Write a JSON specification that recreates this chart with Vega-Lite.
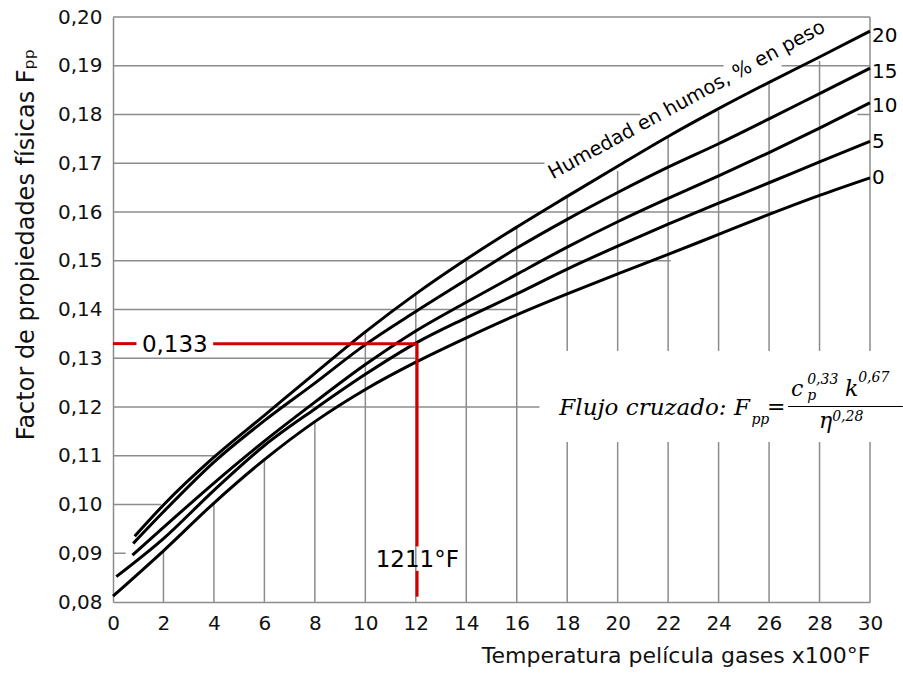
{
  "$schema": "https://vega.github.io/schema/vega-lite/v6.json",
  "width": 757,
  "height": 585,
  "autosize": {"type": "none"},
  "padding": {"left": 113, "top": 17, "right": 33, "bottom": 73},
  "background": "white",
  "config": {"view": {"stroke": null}, "font": "DejaVu Sans"},
  "datasets": {
    "hgrid": [
      {"y": 0.09, "x": 0, "x2": 0.5},
      {"y": 0.10, "x": 0, "x2": 1.9},
      {"y": 0.11, "x": 0, "x2": 4.0},
      {"y": 0.12, "x": 0, "x2": 16.9},
      {"y": 0.13, "x": 0, "x2": 12.0},
      {"y": 0.14, "x": 0, "x2": 16.0},
      {"y": 0.15, "x": 0, "x2": 22.1},
      {"y": 0.16, "x": 0, "x2": 26.2},
      {"y": 0.17, "x": 0, "x2": 17.1},
      {"y": 0.18, "x": 0, "x2": 20.9},
      {"y": 0.18, "x": 29.5, "x2": 30},
      {"y": 0.19, "x": 0, "x2": 24.2},
      {"y": 0.19, "x": 26.5, "x2": 30},
      {"y": 0.20, "x": 0, "x2": 30}
    ],
    "vgrid": [
      {"x": 2, "y": 0.08, "y2": 0.0905},
      {"x": 4, "y": 0.08, "y2": 0.1003},
      {"x": 6, "y": 0.08, "y2": 0.1092},
      {"x": 8, "y": 0.08, "y2": 0.1170},
      {"x": 10, "y": 0.08, "y2": 0.1354},
      {"x": 12, "y": 0.08, "y2": 0.1432},
      {"x": 14, "y": 0.08, "y2": 0.1503},
      {"x": 16, "y": 0.08, "y2": 0.1569},
      {"x": 18, "y": 0.08, "y2": 0.1128},
      {"x": 18, "y": 0.1315, "y2": 0.1632},
      {"x": 20, "y": 0.08, "y2": 0.1128},
      {"x": 20, "y": 0.1315, "y2": 0.1684},
      {"x": 22, "y": 0.08, "y2": 0.1128},
      {"x": 22, "y": 0.1315, "y2": 0.1752},
      {"x": 24, "y": 0.08, "y2": 0.1128},
      {"x": 24, "y": 0.1315, "y2": 0.1807},
      {"x": 26, "y": 0.08, "y2": 0.1128},
      {"x": 26, "y": 0.1315, "y2": 0.1862},
      {"x": 28, "y": 0.08, "y2": 0.1128},
      {"x": 28, "y": 0.1315, "y2": 0.1910},
      {"x": 30, "y": 0.08, "y2": 0.1128},
      {"x": 30, "y": 0.1315, "y2": 0.20}
    ],
    "curves": [
      {"h": 0, "x": 0, "y": 0.0812}, {"h": 0, "x": 2, "y": 0.0905}, {"h": 0, "x": 4, "y": 0.1003}, {"h": 0, "x": 6, "y": 0.1092},
      {"h": 0, "x": 8, "y": 0.1170}, {"h": 0, "x": 10, "y": 0.1236}, {"h": 0, "x": 12, "y": 0.1292}, {"h": 0, "x": 14, "y": 0.1342},
      {"h": 0, "x": 16, "y": 0.1389}, {"h": 0, "x": 18, "y": 0.1432}, {"h": 0, "x": 20, "y": 0.1473}, {"h": 0, "x": 22, "y": 0.1513},
      {"h": 0, "x": 24, "y": 0.1554}, {"h": 0, "x": 26, "y": 0.1595}, {"h": 0, "x": 28, "y": 0.1634}, {"h": 0, "x": 30, "y": 0.1670},
      {"h": 5, "x": 0.13, "y": 0.0852}, {"h": 5, "x": 2, "y": 0.0930}, {"h": 5, "x": 4, "y": 0.1029}, {"h": 5, "x": 6, "y": 0.1121},
      {"h": 5, "x": 8, "y": 0.1196}, {"h": 5, "x": 10, "y": 0.1267}, {"h": 5, "x": 12, "y": 0.1331}, {"h": 5, "x": 14, "y": 0.1383},
      {"h": 5, "x": 16, "y": 0.1432}, {"h": 5, "x": 18, "y": 0.1483}, {"h": 5, "x": 20, "y": 0.1530}, {"h": 5, "x": 22, "y": 0.1575},
      {"h": 5, "x": 24, "y": 0.1618}, {"h": 5, "x": 26, "y": 0.1660}, {"h": 5, "x": 28, "y": 0.1703}, {"h": 5, "x": 30, "y": 0.1745},
      {"h": 10, "x": 0.77, "y": 0.0896}, {"h": 10, "x": 2, "y": 0.0953}, {"h": 10, "x": 4, "y": 0.1044}, {"h": 10, "x": 6, "y": 0.1130},
      {"h": 10, "x": 8, "y": 0.1210}, {"h": 10, "x": 10, "y": 0.1287}, {"h": 10, "x": 12, "y": 0.1356}, {"h": 10, "x": 14, "y": 0.1415},
      {"h": 10, "x": 16, "y": 0.1472}, {"h": 10, "x": 18, "y": 0.1528}, {"h": 10, "x": 20, "y": 0.1580}, {"h": 10, "x": 22, "y": 0.1628},
      {"h": 10, "x": 24, "y": 0.1674}, {"h": 10, "x": 26, "y": 0.1722}, {"h": 10, "x": 28, "y": 0.1772}, {"h": 10, "x": 30, "y": 0.1824},
      {"h": 15, "x": 0.8, "y": 0.0920}, {"h": 15, "x": 2, "y": 0.0985}, {"h": 15, "x": 4, "y": 0.1087}, {"h": 15, "x": 6, "y": 0.1172},
      {"h": 15, "x": 8, "y": 0.1249}, {"h": 15, "x": 10, "y": 0.1328}, {"h": 15, "x": 12, "y": 0.1396}, {"h": 15, "x": 14, "y": 0.1461},
      {"h": 15, "x": 16, "y": 0.1526}, {"h": 15, "x": 18, "y": 0.1585}, {"h": 15, "x": 20, "y": 0.1640}, {"h": 15, "x": 22, "y": 0.1692},
      {"h": 15, "x": 24, "y": 0.1740}, {"h": 15, "x": 26, "y": 0.1791}, {"h": 15, "x": 28, "y": 0.1843}, {"h": 15, "x": 30, "y": 0.1895},
      {"h": 20, "x": 0.86, "y": 0.0935}, {"h": 20, "x": 2, "y": 0.0999}, {"h": 20, "x": 4, "y": 0.1097}, {"h": 20, "x": 6, "y": 0.1183},
      {"h": 20, "x": 8, "y": 0.1269}, {"h": 20, "x": 10, "y": 0.1354}, {"h": 20, "x": 12, "y": 0.1432}, {"h": 20, "x": 14, "y": 0.1503},
      {"h": 20, "x": 16, "y": 0.1569}, {"h": 20, "x": 18, "y": 0.1632}, {"h": 20, "x": 20, "y": 0.1694}, {"h": 20, "x": 22, "y": 0.1755},
      {"h": 20, "x": 24, "y": 0.1812}, {"h": 20, "x": 26, "y": 0.1866}, {"h": 20, "x": 28, "y": 0.1918}, {"h": 20, "x": 30, "y": 0.1971}
    ],
    "red": [
      {"x": 0, "y": 0.133, "x2": 0.93, "y2": 0.133},
      {"x": 3.97, "y": 0.133, "x2": 12.05, "y2": 0.133},
      {"x": 12.05, "y": 0.133, "x2": 12.05, "y2": 0.0914},
      {"x": 12.05, "y": 0.0864, "x2": 12.05, "y2": 0.0811}
    ],
    "curvelab": [
      {"x": 30, "y": 0.1961, "t": "20"},
      {"x": 30, "y": 0.1887, "t": "15"},
      {"x": 30, "y": 0.1818, "t": "10"},
      {"x": 30, "y": 0.1743, "t": "5"},
      {"x": 30, "y": 0.1670, "t": "0"}
    ],
    "ann": [
      {"x": 2.45, "y": 0.1328, "t": "0,133"},
      {"x": 12.06, "y": 0.0886, "t": "1211°F"}
    ],
    "hum": [{"x": 22.74, "y": 0.1830, "t": "Humedad en humos, % en peso"}],
    "fmain": [{"x": 25.24, "y": 0.11838, "t": "Flujo cruzado: F"}],
    "fbig": [
      {"x": 25.92, "y": 0.11858, "t": "="},
      {"x": 26.87, "y": 0.12228, "t": "c"},
      {"x": 29.01, "y": 0.12228, "t": "k"},
      {"x": 27.98, "y": 0.11571, "t": "η"}
    ],
    "fsmall": [
      {"x": 25.3, "y": 0.11653, "t": "pp"},
      {"x": 27.51, "y": 0.12146, "t": "p"},
      {"x": 27.51, "y": 0.12474, "t": "0,33"},
      {"x": 29.53, "y": 0.12516, "t": "0,67"},
      {"x": 28.5, "y": 0.11715, "t": "0,28"}
    ],
    "bar": [{"x": 26.75, "x2": 31.3, "y": 0.1201}]
  },
  "encoding": {
    "x": {
      "field": "x", "type": "quantitative",
      "scale": {"domain": [0, 30], "nice": false, "zero": false},
      "axis": {
        "title": "Temperatura película gases x100°F",
        "values": [0, 2, 4, 6, 8, 10, 12, 14, 16, 18, 20, 22, 24, 26, 28, 30],
        "ticks": false, "grid": false,
        "domainColor": "#8c8c8c", "domainWidth": 1.5,
        "labelFont": "DejaVu Sans", "labelFontSize": 20, "labelColor": "#111111",
        "labelPadding": 11, "labelFlush": false,
        "titleFont": "DejaVu Sans", "titleFontSize": 22, "titleFontWeight": "normal",
        "titleColor": "#111111", "titleAnchor": "end", "titlePadding": 12
      }
    },
    "y": {
      "field": "y", "type": "quantitative",
      "scale": {"domain": [0.08, 0.2], "nice": false, "zero": false},
      "axis": {
        "title": "Factor de propiedades físicas Fₚₚ",
        "values": [0.08, 0.09, 0.1, 0.11, 0.12, 0.13, 0.14, 0.15, 0.16, 0.17, 0.18, 0.19, 0.2],
        "labelExpr": "replace(format(datum.value, '.2f'), '.', ',')",
        "ticks": false, "grid": false,
        "domainColor": "#8c8c8c", "domainWidth": 1.5,
        "labelFont": "DejaVu Sans", "labelFontSize": 20, "labelColor": "#111111",
        "labelPadding": 11,
        "titleFont": "DejaVu Sans", "titleFontSize": 24, "titleFontWeight": "normal",
        "titleColor": "#111111", "titleX": -87, "titleY": 227,
        "titleAlign": "center", "titleBaseline": "middle", "titleAngle": 270
      }
    }
  },
  "layer": [
    {
      "data": {"name": "hgrid"},
      "mark": {"type": "rule", "color": "#8c8c8c", "strokeWidth": 1.5},
      "encoding": {"x2": {"field": "x2"}}
    },
    {
      "data": {"name": "vgrid"},
      "mark": {"type": "rule", "color": "#8c8c8c", "strokeWidth": 1.5},
      "encoding": {"y2": {"field": "y2"}}
    },
    {
      "data": {"name": "curves"},
      "mark": {"type": "line", "color": "#000000", "strokeWidth": 3, "interpolate": "monotone"},
      "encoding": {"detail": {"field": "h", "type": "nominal"}}
    },
    {
      "data": {"name": "red"},
      "mark": {"type": "rule", "color": "#d00000", "strokeWidth": 3},
      "encoding": {"x2": {"field": "x2"}, "y2": {"field": "y2"}}
    },
    {
      "data": {"name": "bar"},
      "mark": {"type": "rule", "color": "#000000", "strokeWidth": 1.2},
      "encoding": {"x2": {"field": "x2"}}
    },
    {
      "data": {"name": "curvelab"},
      "mark": {"type": "text", "align": "left", "baseline": "middle", "dx": 2, "fontSize": 20, "font": "DejaVu Sans", "color": "#000000"},
      "encoding": {"text": {"field": "t"}}
    },
    {
      "data": {"name": "ann"},
      "mark": {"type": "text", "align": "center", "baseline": "middle", "fontSize": 23, "font": "DejaVu Sans", "color": "#000000"},
      "encoding": {"text": {"field": "t"}}
    },
    {
      "data": {"name": "hum"},
      "mark": {"type": "text", "align": "center", "baseline": "middle", "angle": -28.5, "fontSize": 19.5, "font": "DejaVu Sans", "color": "#000000"},
      "encoding": {"text": {"field": "t"}}
    },
    {
      "data": {"name": "fmain"},
      "mark": {"type": "text", "align": "right", "baseline": "alphabetic", "fontSize": 23, "font": "DejaVu Serif", "fontStyle": "italic", "color": "#000000"},
      "encoding": {"text": {"field": "t"}}
    },
    {
      "data": {"name": "fbig"},
      "mark": {"type": "text", "align": "left", "baseline": "alphabetic", "fontSize": 22, "font": "DejaVu Serif", "fontStyle": "italic", "color": "#000000"},
      "encoding": {"text": {"field": "t"}}
    },
    {
      "data": {"name": "fsmall"},
      "mark": {"type": "text", "align": "left", "baseline": "alphabetic", "fontSize": 14, "font": "DejaVu Serif", "fontStyle": "italic", "color": "#000000"},
      "encoding": {"text": {"field": "t"}}
    }
  ]
}
